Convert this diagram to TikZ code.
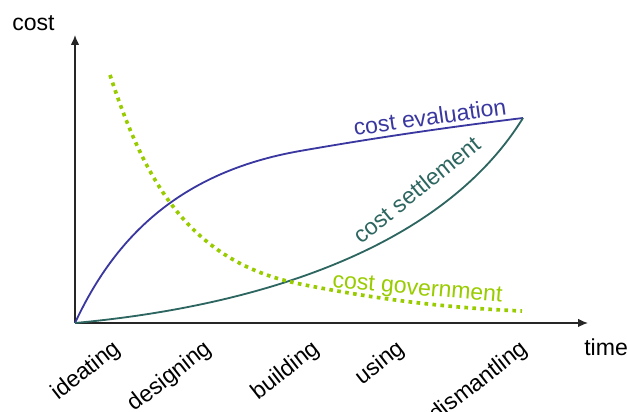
\documentclass[tikz,border=0pt]{standalone}
\usepackage{fontspec}
\setmainfont{Liberation Sans}
\usetikzlibrary{arrows,arrows.meta,shapes,positioning}
\definecolor{evalblue}{RGB}{58,56,160}
\definecolor{settleteal}{RGB}{45,102,96}
\definecolor{govgreen}{RGB}{153,204,0}

\begin{document}
\begin{tikzpicture}[x=0.025cm,y=0.025cm,
                    font=\fontsize{16.4}{19}\selectfont]
\tikzstyle{axis}=[-{Latex[length=7pt,width=6pt]},line width=1pt,draw=black!85]
\tikzstyle{phase}=[anchor=base east,rotate=38,inner sep=0pt]
\tikzstyle{curvelbl}=[anchor=base,inner sep=0pt]
\tikzstyle{curve}=[line width=1.3pt]
\tikzstyle{gov}=[line width=2.6pt,dash pattern=on 2.6pt off 3.1pt,draw=govgreen]
\useasboundingbox (0,0) rectangle (627,412);
\coordinate (origin) at (75,89);
\coordinate (ytop) at (75,377);
\coordinate (xend) at (588,89);
\coordinate (endpt) at (523,294);
% axes
\draw[axis] (origin) -- (ytop);
\draw[axis] (origin) -- (xend);
\node[anchor=base west,inner sep=0pt] (costlbl) at (12,381) {cost};
\node[anchor=base west,inner sep=0pt] (timelbl) at (584,56) {time};
% phases
\node[phase] (ideating) at (122,61) {ideating};
\node[phase] (designing) at (213,61) {designing};
\node[phase] (building) at (321,61) {building};
\node[phase] (using) at (406,61) {using};
\node[phase] (dismantling) at (529,61) {dismantling};
% curves
\draw[curve,evalblue] (origin) .. controls (115,175) and (180,240) .. (300,261)
  .. controls (380,275) and (450,285) .. (endpt);
\draw[curve,settleteal] (origin) .. controls (250,105) and (440,160) .. (endpt);
\draw[gov] (110,337) .. controls (145,230) and (190,150) .. (300,128)
  .. controls (380,112) and (450,104) .. (522,101);
\node[curvelbl,evalblue,rotate=8] (evallbl) at (431,287) {cost evaluation};
\node[curvelbl,settleteal,rotate=39] (settlelbl) at (422,216) {cost settlement};
\node[curvelbl,govgreen,rotate=-5] (govlbl) at (417,117) {cost government};
\end{tikzpicture}
\end{document}
